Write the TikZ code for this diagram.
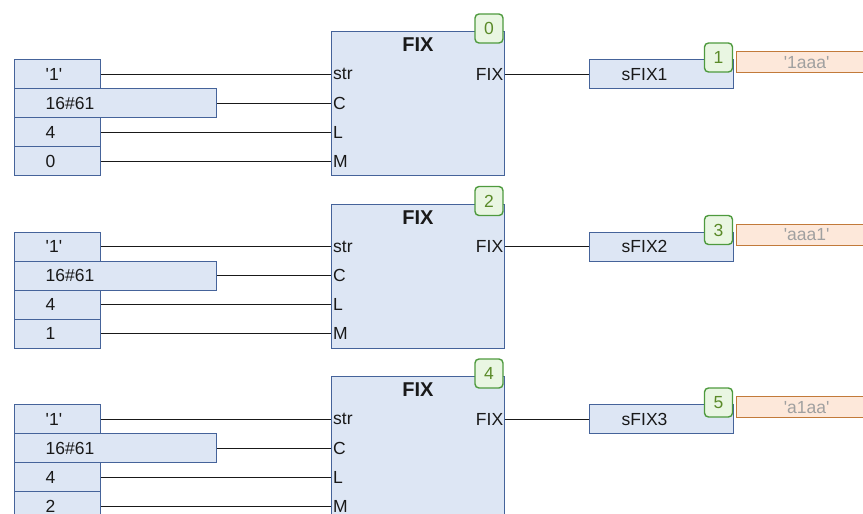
\documentclass[tikz,border=0pt]{standalone}
\usepackage{fontspec}
\setmainfont{Liberation Sans}
\usetikzlibrary{positioning}
\definecolor{boxfill}{HTML}{DDE6F4}
\definecolor{boxline}{HTML}{45639A}
\definecolor{tagfill}{HTML}{E9F6E2}
\definecolor{tagline}{HTML}{4E9A3E}
\definecolor{tagtext}{HTML}{5A8A28}
\definecolor{resfill}{HTML}{FDE8DA}
\definecolor{resline}{HTML}{C27A3A}
\definecolor{restext}{HTML}{A0A0A0}
\newcommand{\q}{\textquotesingle}

\begin{document}
\begin{tikzpicture}[x=1pt,y=-1pt,font=\fontsize{17.5}{20}\selectfont,text=black!90,
    val/.style={draw=boxline,fill=boxfill,line width=1.4pt,anchor=north west,minimum height=29pt,inner xsep=31pt,inner ysep=0pt,align=left},
    fblock/.style={draw=boxline,fill=boxfill,line width=1.4pt,anchor=north west,minimum width=173pt,minimum height=144pt,inner sep=0pt},
    pin/.style={inner xsep=2pt,inner ysep=0pt},
    tag/.style={draw=tagline,fill=tagfill,line width=1.4pt,rounded corners=4pt,minimum width=28pt,minimum height=29pt,inner sep=0pt,text=tagtext},
    res/.style={draw=resline,fill=resfill,line width=1.4pt,anchor=north west,minimum width=140pt,minimum height=21pt,inner sep=0pt,text=restext},
    wire/.style={line width=1.4pt,black!90}]
    \useasboundingbox (0,0) rectangle (863,514);
    \clip (0,0) rectangle (863,514);
    \foreach \k/\i/\a/\b/\r in {0/1/0/1/1aaa,1/2/2/3/aaa1,2/3/4/5/a1aa}{
    \begin{scope}[yshift={-172.5pt*\k}]
        % FIX block
        \node[fblock] (f\k) at (331,31) {};
        \node[font=\fontsize{20}{22}\selectfont\bfseries] (t\k) at (418,45) {FIX};
        \node[tag] (n\k) at (489,28.5) {\a};
        % inputs
        \node[val,text width=24pt] (s\k) at (14,59) {\q 1\q};
        \node[val,text width=140pt] (c\k) at (14,88) {16\#61};
        \node[val,text width=24pt] (l\k) at (14,117) {4};
        \node[val,text width=24pt] (m\k) at (14,146) {\k};
        \node[pin,anchor=west] (ps\k) at (f\k.west |- s\k) {str};
        \node[pin,anchor=west] (pc\k) at (f\k.west |- c\k) {C};
        \node[pin,anchor=west] (pl\k) at (f\k.west |- l\k) {L};
        \node[pin,anchor=west] (pm\k) at (f\k.west |- m\k) {M};
        \draw[wire] (s\k) -- (ps\k);
        \draw[wire] (c\k) -- (pc\k);
        \draw[wire] (l\k) -- (pl\k);
        \draw[wire] (m\k) -- (pm\k);
        % output
        \node[pin,anchor=east] (q\k) at (f\k.east |- s\k) {FIX};
        \node[val,inner xsep=32pt,text width=80pt] (o\k) at (589,59) {sFIX\i};
        \draw[wire] (q\k.east) -- (o\k.west);
        \node[tag] (nn\k) at (718.5,57.5) {\b};
        \node[res] (r\k) at (736,51) {\q\r\q};
    \end{scope}
    }
\end{tikzpicture}
\end{document}
